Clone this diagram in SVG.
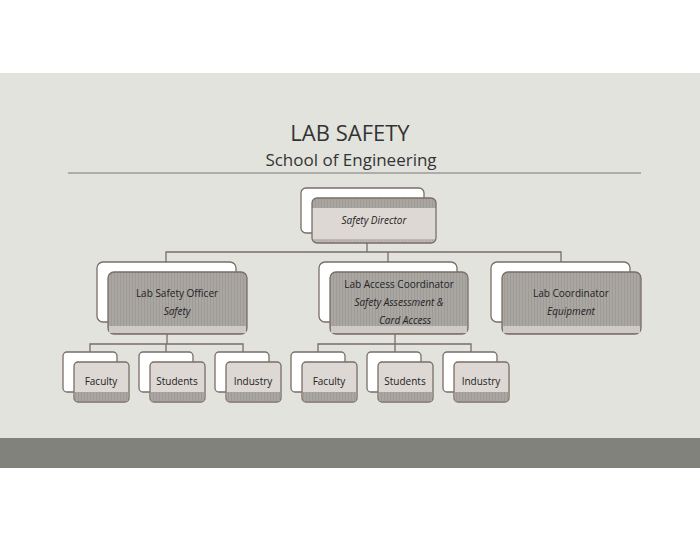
<svg xmlns="http://www.w3.org/2000/svg" width="700" height="541" viewBox="0 0 700 541">
<defs>
<pattern id="h" width="3" height="3" patternUnits="userSpaceOnUse"><rect width="3" height="3" fill="#aaa6a2"/><rect width="1" height="3" fill="#9e9a96"/></pattern>
<pattern id="hl" width="3" height="3" patternUnits="userSpaceOnUse"><rect width="3" height="3" fill="#bbb7b3"/><rect width="1" height="1" fill="#a8a4a0"/></pattern>
<clipPath id="c1"><rect x="312" y="198" width="124" height="45" rx="5"/></clipPath>
</defs>
<style>
.bk{fill:#fff;stroke:#7a6e66;stroke-width:1.3}
.fr{stroke:#7a6e66;stroke-width:1.3}
.ln{fill:none;stroke:#7a6e66;stroke-width:1.3}
text{font-family:"Open Sans","DejaVu Sans",sans-serif;fill:#222;text-anchor:middle}
.t{font-size:10px}
.i{font-style:italic}
</style>
<rect width="700" height="541" fill="#fff"/>
<rect x="0" y="73" width="700" height="365" fill="#e3e3de"/>
<rect x="0" y="438" width="700" height="30" fill="#82827c"/>
<text x="350" y="141" font-size="22" style="fill:#333">LAB SAFETY</text>
<text x="351" y="166" font-size="17" style="fill:#333">School of Engineering</text>
<line x1="68" y1="173" x2="641" y2="173" stroke="#777" stroke-width="1"/>
<g id="connectors">
<path class="ln" d="M367 243V252M166 262V252H561V262M388 252V262"/>
<path class="ln" d="M167 334V344M90 352V344H243V352M166 344V352"/>
<path class="ln" d="M395 334V344M318 352V344H471V352M395 344V352"/>
</g>
<g id="director">
<rect class="bk" x="301" y="188" width="123" height="45" rx="5"/>
<g clip-path="url(#c1)"><rect x="312" y="198" width="124" height="45" fill="#ddd8d4"/><rect x="312" y="198" width="124" height="10" fill="url(#h)"/><rect x="312" y="239" width="124" height="4" fill="url(#hl)"/></g>
<rect class="fr" x="312" y="198" width="124" height="45" rx="5" fill="none"/>
<text class="t i" x="374" y="224">Safety Director</text>
</g>
<g id="lso">
<rect class="bk" x="97" y="262" width="139" height="60" rx="6"/>
<rect class="fr" x="108" y="272" width="139" height="62" rx="6" fill="url(#h)"/>
<rect x="109" y="326" width="137" height="7" fill="#cfcac6"/>
<text class="t" x="177" y="297">Lab Safety Officer</text>
<text class="t i" x="177" y="315">Safety</text>
</g>
<g id="lac">
<rect class="bk" x="319" y="262" width="138" height="60" rx="6"/>
<rect class="fr" x="330" y="272" width="138" height="62" rx="6" fill="url(#h)"/>
<rect x="331" y="326" width="136" height="7" fill="#cfcac6"/>
<text class="t" x="399" y="288">Lab Access Coordinator</text>
<text class="t i" x="399" y="306">Safety Assessment &amp;</text>
<text class="t i" x="405" y="324">Card Access</text>
</g>
<g id="lc">
<rect class="bk" x="491" y="262" width="139" height="60" rx="6"/>
<rect class="fr" x="502" y="272" width="139" height="62" rx="6" fill="url(#h)"/>
<rect x="503" y="326" width="137" height="7" fill="#cfcac6"/>
<text class="t" x="571" y="297">Lab Coordinator</text>
<text class="t i" x="571" y="315">Equipment</text>
</g>
<g id="leaf1"><rect class="bk" x="63" y="352" width="54" height="40" rx="4"/><rect class="fr" x="74" y="362" width="55" height="40" rx="4" fill="#ddd8d4"/><rect x="75" y="392" width="53" height="9" fill="url(#h)"/><text class="t" x="101" y="385">Faculty</text></g>
<g id="leaf2"><rect class="bk" x="139" y="352" width="54" height="40" rx="4"/><rect class="fr" x="150" y="362" width="55" height="40" rx="4" fill="#ddd8d4"/><rect x="151" y="392" width="53" height="9" fill="url(#h)"/><text class="t" x="177" y="385">Students</text></g>
<g id="leaf3"><rect class="bk" x="215" y="352" width="54" height="40" rx="4"/><rect class="fr" x="226" y="362" width="55" height="40" rx="4" fill="#ddd8d4"/><rect x="227" y="392" width="53" height="9" fill="url(#h)"/><text class="t" x="253" y="385">Industry</text></g>
<g id="leaf4"><rect class="bk" x="291" y="352" width="54" height="40" rx="4"/><rect class="fr" x="302" y="362" width="55" height="40" rx="4" fill="#ddd8d4"/><rect x="303" y="392" width="53" height="9" fill="url(#h)"/><text class="t" x="329" y="385">Faculty</text></g>
<g id="leaf5"><rect class="bk" x="367" y="352" width="54" height="40" rx="4"/><rect class="fr" x="378" y="362" width="55" height="40" rx="4" fill="#ddd8d4"/><rect x="379" y="392" width="53" height="9" fill="url(#h)"/><text class="t" x="405" y="385">Students</text></g>
<g id="leaf6"><rect class="bk" x="443" y="352" width="54" height="40" rx="4"/><rect class="fr" x="454" y="362" width="55" height="40" rx="4" fill="#ddd8d4"/><rect x="455" y="392" width="53" height="9" fill="url(#h)"/><text class="t" x="481" y="385">Industry</text></g>
</svg>
